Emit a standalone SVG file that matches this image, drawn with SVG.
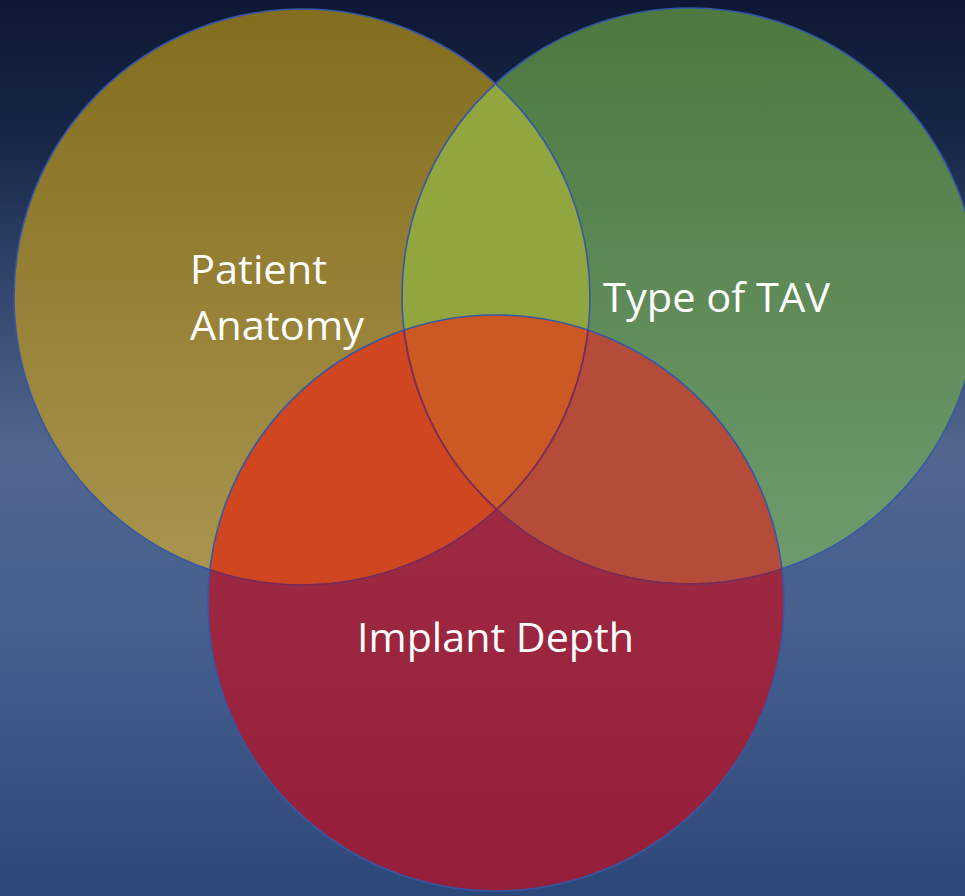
<svg xmlns="http://www.w3.org/2000/svg" width="965" height="896" viewBox="0 0 965 896">
  <defs>
    <linearGradient id="bg" x1="0" y1="0" x2="0" y2="1">
      <stop offset="0" stop-color="#0d1834"/>
      <stop offset="0.15" stop-color="#172647"/>
      <stop offset="0.33" stop-color="#34486f"/>
      <stop offset="0.5" stop-color="#51658f"/>
      <stop offset="0.7" stop-color="#46608e"/>
      <stop offset="1" stop-color="#2c4779"/>
    </linearGradient>
    <linearGradient id="gL" x1="0" y1="0" x2="0" y2="1">
      <stop offset="0" stop-color="#836d1e"/>
      <stop offset="1" stop-color="#a9954e"/>
    </linearGradient>
    <linearGradient id="gR" x1="0" y1="0" x2="0" y2="1">
      <stop offset="0" stop-color="#4d7940"/>
      <stop offset="1" stop-color="#6e9c6e"/>
    </linearGradient>
    <linearGradient id="gB" x1="0" y1="0" x2="0" y2="1">
      <stop offset="0" stop-color="#a42f48"/>
      <stop offset="1" stop-color="#951f3a"/>
    </linearGradient>
    <clipPath id="cL"><circle cx="302" cy="297" r="288"/></clipPath>
    <clipPath id="cR"><circle cx="690" cy="296" r="288"/></clipPath>
    <clipPath id="cB"><circle cx="496" cy="603" r="288"/></clipPath>
    <style>
      .lbl { font-family: "Open Sans", "Liberation Sans", sans-serif; font-size: 41px; fill: #ffffff; }
      .ol { fill: none; stroke: #3458a6; stroke-width: 1.6; }
    </style>
  </defs>
  <rect x="0" y="0" width="965" height="896" fill="url(#bg)"/>

  <g id="patient-anatomy">
    <circle cx="302" cy="297" r="288" fill="url(#gL)"/>
  </g>
  <g id="type-of-tav">
    <circle cx="690" cy="296" r="288" fill="url(#gR)"/>
    <g clip-path="url(#cL)">
      <circle cx="690" cy="296" r="288" fill="#92a640"/>
    </g>
  </g>
  <g id="implant-depth">
    <circle cx="496" cy="603" r="288" fill="url(#gB)"/>
    <g clip-path="url(#cB)">
      <circle cx="302" cy="297" r="288" fill="#d04620"/>
      <circle cx="690" cy="296" r="288" fill="#b54c3a"/>
      <g clip-path="url(#cL)">
        <circle cx="690" cy="296" r="288" fill="#cc5924"/>
      </g>
    </g>
  </g>

  <g id="outlines">
    <circle class="ol" cx="302" cy="297" r="288"/>
    <circle class="ol" cx="690" cy="296" r="288"/>
    <circle class="ol" cx="496" cy="603" r="288"/>
    <g clip-path="url(#cB)">
      <circle cx="302" cy="297" r="288" fill="none" stroke="#8a2348" stroke-width="1.6"/>
      <circle cx="690" cy="296" r="288" fill="none" stroke="#8a2348" stroke-width="1.6"/>
    </g>
  </g>

  <g id="labels">
    <text class="lbl" x="190" y="284" textLength="137" lengthAdjust="spacingAndGlyphs">Patient</text>
    <text class="lbl" x="190" y="340" textLength="174" lengthAdjust="spacingAndGlyphs">Anatomy</text>
    <text class="lbl" x="603" y="312" textLength="227" lengthAdjust="spacingAndGlyphs">Type of TAV</text>
    <text class="lbl" x="357" y="652" textLength="277" lengthAdjust="spacingAndGlyphs">Implant Depth</text>
  </g>
</svg>
